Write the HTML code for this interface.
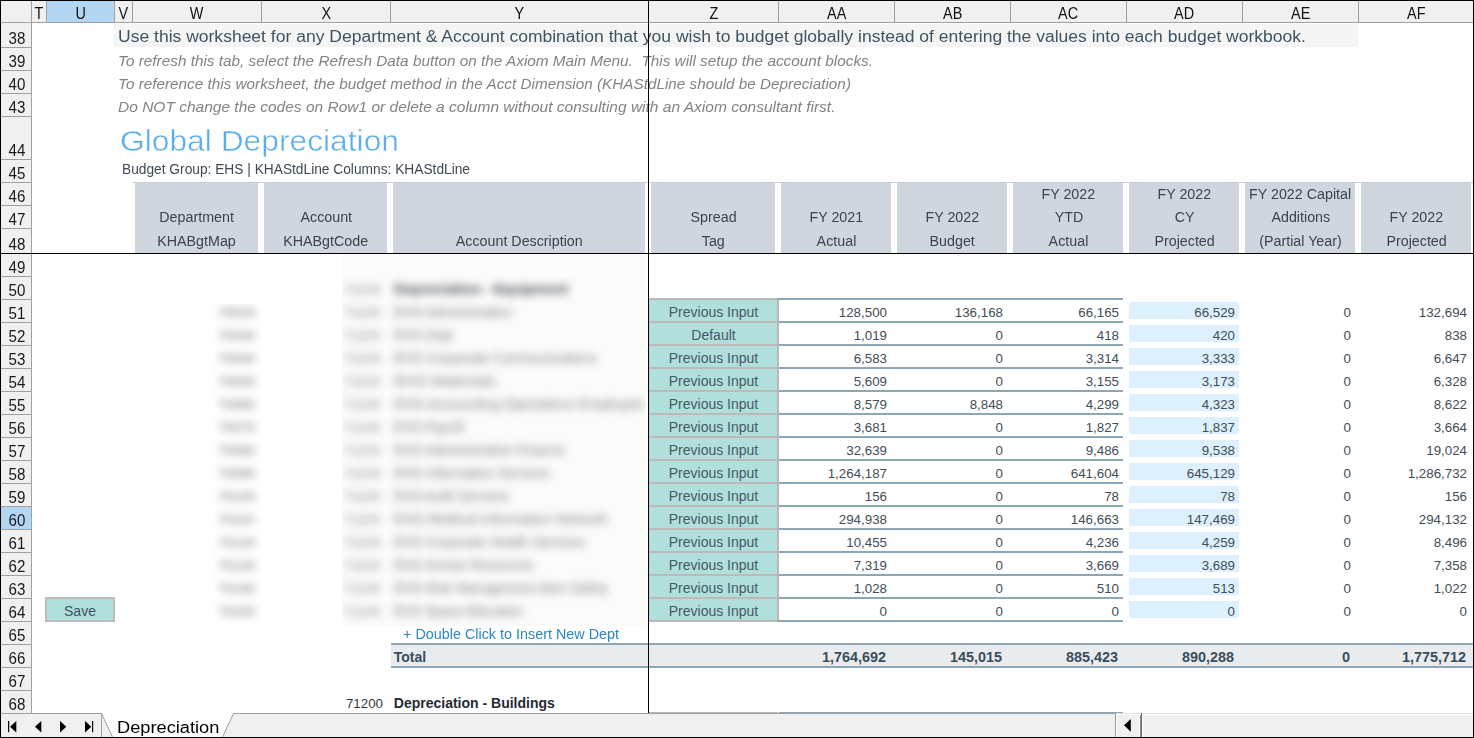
<!DOCTYPE html>
<html><head><meta charset="utf-8"><style>
html,body{margin:0;padding:0;background:#fff;}
body{width:1474px;height:738px;position:relative;overflow:hidden;font-family:"Liberation Sans", sans-serif;}
.t{position:absolute;white-space:pre;line-height:20px;}
</style></head><body>

<div style="position:absolute;left:1px;top:1px;width:1472px;height:21px;background:#f0f0f0;"></div>
<div style="position:absolute;left:47px;top:1px;width:67px;height:21px;background:#b3d7f3;"></div>
<div style="position:absolute;left:1px;top:22px;width:1472px;height:1px;background:#a0a0a0;"></div>
<div style="position:absolute;left:46px;top:1px;width:1px;height:22px;background:#a0a0a0;"></div>
<div style="position:absolute;left:114px;top:1px;width:1px;height:22px;background:#a0a0a0;"></div>
<div style="position:absolute;left:132px;top:1px;width:1px;height:22px;background:#a0a0a0;"></div>
<div style="position:absolute;left:261px;top:1px;width:1px;height:22px;background:#a0a0a0;"></div>
<div style="position:absolute;left:390px;top:1px;width:1px;height:22px;background:#a0a0a0;"></div>
<div style="position:absolute;left:778px;top:1px;width:1px;height:22px;background:#a0a0a0;"></div>
<div style="position:absolute;left:894px;top:1px;width:1px;height:22px;background:#a0a0a0;"></div>
<div style="position:absolute;left:1010px;top:1px;width:1px;height:22px;background:#a0a0a0;"></div>
<div style="position:absolute;left:1126px;top:1px;width:1px;height:22px;background:#a0a0a0;"></div>
<div style="position:absolute;left:1242px;top:1px;width:1px;height:22px;background:#a0a0a0;"></div>
<div style="position:absolute;left:1358px;top:1px;width:1px;height:22px;background:#a0a0a0;"></div>
<div style="position:absolute;left:31px;top:1px;width:1px;height:22px;background:#a0a0a0;"></div>
<div style="position:absolute;left:1px;top:23px;width:30px;height:690px;background:#f0f0f0;"></div>
<div style="position:absolute;left:31px;top:23px;width:1px;height:690px;background:#a0a0a0;"></div>
<div style="position:absolute;left:1px;top:47px;width:30px;height:1px;background:#a0a0a0;"></div>
<div style="position:absolute;left:1px;top:70px;width:30px;height:1px;background:#a0a0a0;"></div>
<div style="position:absolute;left:1px;top:93px;width:30px;height:1px;background:#a0a0a0;"></div>
<div style="position:absolute;left:1px;top:116px;width:30px;height:1px;background:#a0a0a0;"></div>
<div style="position:absolute;left:1px;top:159px;width:30px;height:1px;background:#a0a0a0;"></div>
<div style="position:absolute;left:1px;top:182px;width:30px;height:1px;background:#a0a0a0;"></div>
<div style="position:absolute;left:1px;top:205px;width:30px;height:1px;background:#a0a0a0;"></div>
<div style="position:absolute;left:1px;top:228px;width:30px;height:1px;background:#a0a0a0;"></div>
<div style="position:absolute;left:1px;top:276px;width:30px;height:1px;background:#a0a0a0;"></div>
<div style="position:absolute;left:1px;top:299px;width:30px;height:1px;background:#a0a0a0;"></div>
<div style="position:absolute;left:1px;top:322px;width:30px;height:1px;background:#a0a0a0;"></div>
<div style="position:absolute;left:1px;top:345px;width:30px;height:1px;background:#a0a0a0;"></div>
<div style="position:absolute;left:1px;top:368px;width:30px;height:1px;background:#a0a0a0;"></div>
<div style="position:absolute;left:1px;top:391px;width:30px;height:1px;background:#a0a0a0;"></div>
<div style="position:absolute;left:1px;top:414px;width:30px;height:1px;background:#a0a0a0;"></div>
<div style="position:absolute;left:1px;top:437px;width:30px;height:1px;background:#a0a0a0;"></div>
<div style="position:absolute;left:1px;top:460px;width:30px;height:1px;background:#a0a0a0;"></div>
<div style="position:absolute;left:1px;top:483px;width:30px;height:1px;background:#a0a0a0;"></div>
<div style="position:absolute;left:1px;top:506px;width:30px;height:1px;background:#a0a0a0;"></div>
<div style="position:absolute;left:1px;top:507px;width:30px;height:22px;background:#b3d7f3;"></div>
<div style="position:absolute;left:1px;top:529px;width:30px;height:1px;background:#a0a0a0;"></div>
<div style="position:absolute;left:1px;top:552px;width:30px;height:1px;background:#a0a0a0;"></div>
<div style="position:absolute;left:1px;top:575px;width:30px;height:1px;background:#a0a0a0;"></div>
<div style="position:absolute;left:1px;top:598px;width:30px;height:1px;background:#a0a0a0;"></div>
<div style="position:absolute;left:1px;top:621px;width:30px;height:1px;background:#a0a0a0;"></div>
<div style="position:absolute;left:1px;top:644px;width:30px;height:1px;background:#a0a0a0;"></div>
<div style="position:absolute;left:1px;top:667px;width:30px;height:1px;background:#a0a0a0;"></div>
<div style="position:absolute;left:1px;top:690px;width:30px;height:1px;background:#a0a0a0;"></div>
<div style="position:absolute;left:1px;top:713px;width:30px;height:1px;background:#a0a0a0;"></div>
<div style="position:absolute;left:114px;top:24px;width:1244px;height:23px;background:#f5f5f5;"></div>
<div style="position:absolute;left:132px;top:182px;width:1341px;height:1px;background:#c8cfd6;"></div>
<div style="position:absolute;left:135px;top:183px;width:123px;height:70px;background:#cfd6de;"></div>
<div style="position:absolute;left:264px;top:183px;width:123px;height:70px;background:#cfd6de;"></div>
<div style="position:absolute;left:393px;top:183px;width:252px;height:70px;background:#cfd6de;"></div>
<div style="position:absolute;left:651px;top:183px;width:124px;height:70px;background:#cfd6de;"></div>
<div style="position:absolute;left:781px;top:183px;width:110px;height:70px;background:#cfd6de;"></div>
<div style="position:absolute;left:897px;top:183px;width:110px;height:70px;background:#cfd6de;"></div>
<div style="position:absolute;left:1013px;top:183px;width:110px;height:70px;background:#cfd6de;"></div>
<div style="position:absolute;left:1129px;top:183px;width:110px;height:70px;background:#cfd6de;"></div>
<div style="position:absolute;left:1245px;top:183px;width:110px;height:70px;background:#cfd6de;"></div>
<div style="position:absolute;left:1361px;top:183px;width:110px;height:70px;background:#cfd6de;"></div>
<div style="position:absolute;left:649px;top:300px;width:128px;height:321px;background:#b1dfdc;"></div>
<div style="position:absolute;left:649px;top:298px;width:128px;height:2px;background:#bdb9b9;"></div>
<div style="position:absolute;left:649px;top:321px;width:128px;height:2px;background:#bdb9b9;"></div>
<div style="position:absolute;left:649px;top:344px;width:128px;height:2px;background:#bdb9b9;"></div>
<div style="position:absolute;left:649px;top:367px;width:128px;height:2px;background:#bdb9b9;"></div>
<div style="position:absolute;left:649px;top:390px;width:128px;height:2px;background:#bdb9b9;"></div>
<div style="position:absolute;left:649px;top:413px;width:128px;height:2px;background:#bdb9b9;"></div>
<div style="position:absolute;left:649px;top:436px;width:128px;height:2px;background:#bdb9b9;"></div>
<div style="position:absolute;left:649px;top:459px;width:128px;height:2px;background:#bdb9b9;"></div>
<div style="position:absolute;left:649px;top:482px;width:128px;height:2px;background:#bdb9b9;"></div>
<div style="position:absolute;left:649px;top:505px;width:128px;height:2px;background:#bdb9b9;"></div>
<div style="position:absolute;left:649px;top:528px;width:128px;height:2px;background:#bdb9b9;"></div>
<div style="position:absolute;left:649px;top:551px;width:128px;height:2px;background:#bdb9b9;"></div>
<div style="position:absolute;left:649px;top:574px;width:128px;height:2px;background:#bdb9b9;"></div>
<div style="position:absolute;left:649px;top:597px;width:128px;height:2px;background:#bdb9b9;"></div>
<div style="position:absolute;left:649px;top:620px;width:128px;height:2px;background:#bdb9b9;"></div>
<div style="position:absolute;left:777px;top:300px;width:2px;height:320px;background:#bdb9b9;"></div>
<div style="position:absolute;left:777px;top:298px;width:346px;height:2px;background:#8fa7b5;"></div>
<div style="position:absolute;left:779px;top:321px;width:344px;height:2px;background:#8fa7b5;"></div>
<div style="position:absolute;left:779px;top:344px;width:344px;height:2px;background:#8fa7b5;"></div>
<div style="position:absolute;left:779px;top:367px;width:344px;height:2px;background:#8fa7b5;"></div>
<div style="position:absolute;left:779px;top:390px;width:344px;height:2px;background:#8fa7b5;"></div>
<div style="position:absolute;left:779px;top:413px;width:344px;height:2px;background:#8fa7b5;"></div>
<div style="position:absolute;left:779px;top:436px;width:344px;height:2px;background:#8fa7b5;"></div>
<div style="position:absolute;left:779px;top:459px;width:344px;height:2px;background:#8fa7b5;"></div>
<div style="position:absolute;left:779px;top:482px;width:344px;height:2px;background:#8fa7b5;"></div>
<div style="position:absolute;left:779px;top:505px;width:344px;height:2px;background:#8fa7b5;"></div>
<div style="position:absolute;left:779px;top:528px;width:344px;height:2px;background:#8fa7b5;"></div>
<div style="position:absolute;left:779px;top:551px;width:344px;height:2px;background:#8fa7b5;"></div>
<div style="position:absolute;left:779px;top:574px;width:344px;height:2px;background:#8fa7b5;"></div>
<div style="position:absolute;left:779px;top:597px;width:344px;height:2px;background:#8fa7b5;"></div>
<div style="position:absolute;left:777px;top:620px;width:346px;height:2px;background:#8fa7b5;"></div>
<div style="position:absolute;left:1129px;top:302px;width:110px;height:17px;background:#ddf0fd;"></div>
<div style="position:absolute;left:1129px;top:325px;width:110px;height:17px;background:#ddf0fd;"></div>
<div style="position:absolute;left:1129px;top:348px;width:110px;height:17px;background:#ddf0fd;"></div>
<div style="position:absolute;left:1129px;top:371px;width:110px;height:17px;background:#ddf0fd;"></div>
<div style="position:absolute;left:1129px;top:394px;width:110px;height:17px;background:#ddf0fd;"></div>
<div style="position:absolute;left:1129px;top:417px;width:110px;height:17px;background:#ddf0fd;"></div>
<div style="position:absolute;left:1129px;top:440px;width:110px;height:17px;background:#ddf0fd;"></div>
<div style="position:absolute;left:1129px;top:463px;width:110px;height:17px;background:#ddf0fd;"></div>
<div style="position:absolute;left:1129px;top:486px;width:110px;height:17px;background:#ddf0fd;"></div>
<div style="position:absolute;left:1129px;top:509px;width:110px;height:17px;background:#ddf0fd;"></div>
<div style="position:absolute;left:1129px;top:532px;width:110px;height:17px;background:#ddf0fd;"></div>
<div style="position:absolute;left:1129px;top:555px;width:110px;height:17px;background:#ddf0fd;"></div>
<div style="position:absolute;left:1129px;top:578px;width:110px;height:17px;background:#ddf0fd;"></div>
<div style="position:absolute;left:1129px;top:601px;width:110px;height:17px;background:#ddf0fd;"></div>
<div style="position:absolute;left:649px;top:712px;width:129px;height:1px;background:#b8b8b8;"></div>
<div style="position:absolute;left:779px;top:712px;width:344px;height:1px;background:#8fa7b5;"></div>
<div style="position:absolute;left:45px;top:597px;width:70px;height:25px;background:#bdbdbd;"></div>
<div style="position:absolute;left:47px;top:599px;width:66px;height:21px;background:#b1dfdc;"></div>
<div style="position:absolute;left:391px;top:643px;width:1082px;height:25px;background:#e9ecef;"></div>
<div style="position:absolute;left:391px;top:643px;width:1082px;height:2px;background:#8fa7b5;"></div>
<div style="position:absolute;left:391px;top:666px;width:1082px;height:2px;background:#8fa7b5;"></div>
<div style="position:absolute;left:1px;top:714px;width:1472px;height:23px;background:#f0f0f0;"></div>
<div style="position:absolute;left:1px;top:713px;width:101px;height:1px;background:#a0a0a0;"></div>
<div style="position:absolute;left:101px;top:713px;width:1px;height:24px;background:#a0a0a0;"></div>
<div style="position:absolute;left:233px;top:713px;width:883px;height:1px;background:#a0a0a0;"></div>
<div style="position:absolute;left:1115px;top:713px;width:1px;height:24px;background:#9a9a9a;"></div>
<div style="position:absolute;left:1116px;top:713px;width:357px;height:1px;background:#e2e2e2;"></div>
<div style="position:absolute;left:1141px;top:713px;width:1px;height:24px;background:#6a6a6a;"></div>
<div style="position:absolute;left:1140px;top:714px;width:1px;height:23px;background:#909090;"></div>
<div style="position:absolute;left:1139px;top:715px;width:1px;height:22px;background:#f8f8f8;"></div>
<div style="position:absolute;left:1116px;top:714px;width:1px;height:23px;background:#ffffff;"></div>
<div style="position:absolute;left:1116px;top:714px;width:25px;height:1px;background:#ffffff;"></div>
<div style="position:absolute;left:1142px;top:714px;width:331px;height:1px;background:#ffffff;"></div>
<div style="position:absolute;left:1142px;top:714px;width:1px;height:23px;background:#ffffff;"></div>
<div style="position:absolute;left:342px;top:254px;width:304px;height:372px;overflow:hidden;background:#fbfbfb">
<div style="position:absolute;left:0;top:0;width:304px;height:372px;filter:blur(4.3px)">
<div class="t" style="left:2px;top:26px;font-size:13.33px;color:#8a8a8a">71100</div>
<div class="t" style="left:52px;top:25px;font-size:14px;font-weight:700;color:#4a5058;transform:scaleX(1.0261);transform-origin:left">Depreciation - Equipment</div>
<div class="t" style="left:2px;top:49px;font-size:13.33px;color:#8a8a8a">71100</div>
<div class="t" style="left:52px;top:48px;font-size:14px;color:#7d8185;transform:scaleX(0.9784);transform-origin:left">EHS Administration</div>
<div class="t" style="left:2px;top:72px;font-size:13.33px;color:#8a8a8a">71100</div>
<div class="t" style="left:52px;top:71px;font-size:14px;color:#7d8185;transform:scaleX(0.9478);transform-origin:left">EHS Dept</div>
<div class="t" style="left:2px;top:95px;font-size:13.33px;color:#8a8a8a">71100</div>
<div class="t" style="left:52px;top:94px;font-size:14px;color:#7d8185;transform:scaleX(0.9995);transform-origin:left">EHS Corporate Communications</div>
<div class="t" style="left:2px;top:118px;font-size:13.33px;color:#8a8a8a">71100</div>
<div class="t" style="left:52px;top:117px;font-size:14px;color:#7d8185;transform:scaleX(1.1401);transform-origin:left">EHS Materials</div>
<div class="t" style="left:2px;top:141px;font-size:13.33px;color:#8a8a8a">71100</div>
<div class="t" style="left:52px;top:140px;font-size:14px;color:#7d8185;transform:scaleX(1.0430);transform-origin:left">EHS Accounting Operations Employee</div>
<div class="t" style="left:2px;top:164px;font-size:13.33px;color:#8a8a8a">71100</div>
<div class="t" style="left:52px;top:163px;font-size:14px;color:#7d8185;transform:scaleX(0.9275);transform-origin:left">EHS Payroll</div>
<div class="t" style="left:2px;top:187px;font-size:13.33px;color:#8a8a8a">71100</div>
<div class="t" style="left:52px;top:186px;font-size:14px;color:#7d8185;transform:scaleX(0.9854);transform-origin:left">EHS Administrative Finance</div>
<div class="t" style="left:2px;top:210px;font-size:13.33px;color:#8a8a8a">71100</div>
<div class="t" style="left:52px;top:209px;font-size:14px;color:#7d8185;transform:scaleX(0.9732);transform-origin:left">EHS Information Services</div>
<div class="t" style="left:2px;top:233px;font-size:13.33px;color:#8a8a8a">71100</div>
<div class="t" style="left:52px;top:232px;font-size:14px;color:#7d8185;transform:scaleX(0.9474);transform-origin:left">EHS Audit Services</div>
<div class="t" style="left:2px;top:256px;font-size:13.33px;color:#8a8a8a">71100</div>
<div class="t" style="left:52px;top:255px;font-size:14px;color:#7d8185;transform:scaleX(1.0187);transform-origin:left">EHS Medical Information Network</div>
<div class="t" style="left:2px;top:279px;font-size:13.33px;color:#8a8a8a">71100</div>
<div class="t" style="left:52px;top:278px;font-size:14px;color:#7d8185;transform:scaleX(0.9702);transform-origin:left">EHS Corporate Health Services</div>
<div class="t" style="left:2px;top:302px;font-size:13.33px;color:#8a8a8a">71100</div>
<div class="t" style="left:52px;top:301px;font-size:14px;color:#7d8185;transform:scaleX(0.9420);transform-origin:left">EHS Human Resources</div>
<div class="t" style="left:2px;top:325px;font-size:13.33px;color:#8a8a8a">71100</div>
<div class="t" style="left:52px;top:324px;font-size:14px;color:#7d8185;transform:scaleX(0.9683);transform-origin:left">EHS Risk Management Alert Safety</div>
<div class="t" style="left:2px;top:348px;font-size:13.33px;color:#8a8a8a">71100</div>
<div class="t" style="left:52px;top:347px;font-size:14px;color:#7d8185;transform:scaleX(0.9471);transform-origin:left">EHS Space Allocation</div>
</div></div>
<div style="position:absolute;left:205px;top:304px;width:64px;height:322px;overflow:hidden">
<div style="position:absolute;left:0;top:0;width:64px;height:322px;filter:blur(4.3px)">
<div class="t" style="left:13px;top:-1px;font-size:13.33px;color:#6a6a6a">70025</div>
<div class="t" style="left:13px;top:22px;font-size:13.33px;color:#6a6a6a">70030</div>
<div class="t" style="left:13px;top:45px;font-size:13.33px;color:#6a6a6a">70040</div>
<div class="t" style="left:13px;top:68px;font-size:13.33px;color:#6a6a6a">70050</div>
<div class="t" style="left:13px;top:91px;font-size:13.33px;color:#6a6a6a">70060</div>
<div class="t" style="left:13px;top:114px;font-size:13.33px;color:#6a6a6a">70070</div>
<div class="t" style="left:13px;top:137px;font-size:13.33px;color:#6a6a6a">70080</div>
<div class="t" style="left:13px;top:160px;font-size:13.33px;color:#6a6a6a">70090</div>
<div class="t" style="left:13px;top:183px;font-size:13.33px;color:#6a6a6a">70100</div>
<div class="t" style="left:13px;top:206px;font-size:13.33px;color:#6a6a6a">70110</div>
<div class="t" style="left:13px;top:229px;font-size:13.33px;color:#6a6a6a">70120</div>
<div class="t" style="left:13px;top:252px;font-size:13.33px;color:#6a6a6a">70130</div>
<div class="t" style="left:13px;top:275px;font-size:13.33px;color:#6a6a6a">70140</div>
<div class="t" style="left:13px;top:298px;font-size:13.33px;color:#6a6a6a">70150</div>
</div></div>
<svg style="position:absolute;left:0;top:0" width="1474" height="738" viewBox="0 0 1474 738">
<polygon points="101.5,713.5 233.5,713.5 222.5,737 112.5,737" fill="#ffffff"/>
<line x1="101.5" y1="713.5" x2="112.5" y2="737" stroke="#a0a0a0" stroke-width="1"/>
<line x1="233.5" y1="713.5" x2="222.5" y2="737" stroke="#a0a0a0" stroke-width="1"/>
<rect x="8" y="721" width="1.2" height="11.2" fill="#000"/>
<polygon points="10,726.75 16.3,721 16.3,732.5" fill="#000"/>
<polygon points="35,726.75 41.3,721 41.3,732.5" fill="#000"/>
<polygon points="66.3,726.75 60,721 60,732.5" fill="#000"/>
<polygon points="91.3,726.75 85,721 85,732.5" fill="#000"/>
<rect x="92" y="721" width="1.2" height="11.2" fill="#000"/>
<polygon points="1124,725.3 1130.8,719 1130.8,731.8" fill="#000"/>
</svg>
<div class="t" style="left:34.11px;top:4px;font-size:16px;color:#111;transform:scaleX(0.9000);transform-origin:center;">T</div>
<div class="t" style="left:74.72px;top:4px;font-size:16px;color:#111;transform:scaleX(0.9000);transform-origin:center;">U</div>
<div class="t" style="left:118.16px;top:4px;font-size:16px;color:#111;transform:scaleX(0.9000);transform-origin:center;">V</div>
<div class="t" style="left:189.45px;top:4px;font-size:16px;color:#111;transform:scaleX(0.9000);transform-origin:center;">W</div>
<div class="t" style="left:320.66px;top:4px;font-size:16px;color:#111;transform:scaleX(0.9000);transform-origin:center;">X</div>
<div class="t" style="left:514.16px;top:4px;font-size:16px;color:#111;transform:scaleX(0.9000);transform-origin:center;">Y</div>
<div class="t" style="left:708.61px;top:4px;font-size:16px;color:#111;transform:scaleX(0.9000);transform-origin:center;">Z</div>
<div class="t" style="left:825.83px;top:4px;font-size:16px;color:#111;transform:scaleX(0.9000);transform-origin:center;">AA</div>
<div class="t" style="left:941.83px;top:4px;font-size:16px;color:#111;transform:scaleX(0.9000);transform-origin:center;">AB</div>
<div class="t" style="left:1057.38px;top:4px;font-size:16px;color:#111;transform:scaleX(0.9000);transform-origin:center;">AC</div>
<div class="t" style="left:1173.38px;top:4px;font-size:16px;color:#111;transform:scaleX(0.9000);transform-origin:center;">AD</div>
<div class="t" style="left:1289.83px;top:4px;font-size:16px;color:#111;transform:scaleX(0.9000);transform-origin:center;">AE</div>
<div class="t" style="left:1406.27px;top:4px;font-size:16px;color:#111;transform:scaleX(0.9000);transform-origin:center;">AF</div>
<div class="t" style="left:7.60px;top:29px;font-size:16px;color:#1a1a1a;transform:scaleX(0.9440);transform-origin:center;">38</div>
<div class="t" style="left:7.60px;top:52px;font-size:16px;color:#1a1a1a;transform:scaleX(0.9440);transform-origin:center;">39</div>
<div class="t" style="left:7.60px;top:75px;font-size:16px;color:#1a1a1a;transform:scaleX(0.9440);transform-origin:center;">40</div>
<div class="t" style="left:7.60px;top:98px;font-size:16px;color:#1a1a1a;transform:scaleX(0.9440);transform-origin:center;">43</div>
<div class="t" style="left:7.60px;top:141px;font-size:16px;color:#1a1a1a;transform:scaleX(0.9440);transform-origin:center;">44</div>
<div class="t" style="left:7.60px;top:164px;font-size:16px;color:#1a1a1a;transform:scaleX(0.9440);transform-origin:center;">45</div>
<div class="t" style="left:7.60px;top:187px;font-size:16px;color:#1a1a1a;transform:scaleX(0.9440);transform-origin:center;">46</div>
<div class="t" style="left:7.60px;top:210px;font-size:16px;color:#1a1a1a;transform:scaleX(0.9440);transform-origin:center;">47</div>
<div class="t" style="left:7.60px;top:235px;font-size:16px;color:#1a1a1a;transform:scaleX(0.9440);transform-origin:center;">48</div>
<div class="t" style="left:7.60px;top:258px;font-size:16px;color:#1a1a1a;transform:scaleX(0.9440);transform-origin:center;">49</div>
<div class="t" style="left:7.60px;top:281px;font-size:16px;color:#1a1a1a;transform:scaleX(0.9440);transform-origin:center;">50</div>
<div class="t" style="left:7.60px;top:304px;font-size:16px;color:#1a1a1a;transform:scaleX(0.9440);transform-origin:center;">51</div>
<div class="t" style="left:7.60px;top:327px;font-size:16px;color:#1a1a1a;transform:scaleX(0.9440);transform-origin:center;">52</div>
<div class="t" style="left:7.60px;top:350px;font-size:16px;color:#1a1a1a;transform:scaleX(0.9440);transform-origin:center;">53</div>
<div class="t" style="left:7.60px;top:373px;font-size:16px;color:#1a1a1a;transform:scaleX(0.9440);transform-origin:center;">54</div>
<div class="t" style="left:7.60px;top:396px;font-size:16px;color:#1a1a1a;transform:scaleX(0.9440);transform-origin:center;">55</div>
<div class="t" style="left:7.60px;top:419px;font-size:16px;color:#1a1a1a;transform:scaleX(0.9440);transform-origin:center;">56</div>
<div class="t" style="left:7.60px;top:442px;font-size:16px;color:#1a1a1a;transform:scaleX(0.9440);transform-origin:center;">57</div>
<div class="t" style="left:7.60px;top:465px;font-size:16px;color:#1a1a1a;transform:scaleX(0.9440);transform-origin:center;">58</div>
<div class="t" style="left:7.60px;top:488px;font-size:16px;color:#1a1a1a;transform:scaleX(0.9440);transform-origin:center;">59</div>
<div class="t" style="left:7.60px;top:511px;font-size:16px;color:#1a1a1a;transform:scaleX(0.9440);transform-origin:center;">60</div>
<div class="t" style="left:7.60px;top:534px;font-size:16px;color:#1a1a1a;transform:scaleX(0.9440);transform-origin:center;">61</div>
<div class="t" style="left:7.60px;top:557px;font-size:16px;color:#1a1a1a;transform:scaleX(0.9440);transform-origin:center;">62</div>
<div class="t" style="left:7.60px;top:580px;font-size:16px;color:#1a1a1a;transform:scaleX(0.9440);transform-origin:center;">63</div>
<div class="t" style="left:7.60px;top:603px;font-size:16px;color:#1a1a1a;transform:scaleX(0.9440);transform-origin:center;">64</div>
<div class="t" style="left:7.60px;top:626px;font-size:16px;color:#1a1a1a;transform:scaleX(0.9440);transform-origin:center;">65</div>
<div class="t" style="left:7.60px;top:649px;font-size:16px;color:#1a1a1a;transform:scaleX(0.9440);transform-origin:center;">66</div>
<div class="t" style="left:7.60px;top:672px;font-size:16px;color:#1a1a1a;transform:scaleX(0.9440);transform-origin:center;">67</div>
<div class="t" style="left:7.60px;top:695px;font-size:16px;color:#1a1a1a;transform:scaleX(0.9440);transform-origin:center;">68</div>
<div class="t" style="left:117.5px;top:27px;font-size:16px;color:#3e5462;transform:scaleX(1.0948);transform-origin:left;">Use this worksheet for any Department &amp; Account combination that you wish to budget globally instead of entering the values into each budget workbook.</div>
<div class="t" style="left:117.5px;top:51px;font-size:14px;font-style:italic;color:#838383;transform:scaleX(1.0942);transform-origin:left;">To refresh this tab, select the Refresh Data button on the Axiom Main Menu.&nbsp; This will setup the account blocks.</div>
<div class="t" style="left:117.5px;top:74px;font-size:14px;font-style:italic;color:#838383;transform:scaleX(1.0918);transform-origin:left;">To reference this worksheet, the budget method in the Acct Dimension (KHAStdLine should be Depreciation)</div>
<div class="t" style="left:118.2px;top:97px;font-size:14px;font-style:italic;color:#838383;transform:scaleX(1.1077);transform-origin:left;">Do NOT change the codes on Row1 or delete a column without consulting with an Axiom consultant first.</div>
<div class="t" style="left:120px;top:131px;font-size:30px;color:#5aadf0;transform:scaleX(1.0589);transform-origin:left;-webkit-text-stroke:0.45px #fff;">Global Depreciation</div>
<div class="t" style="left:122px;top:159px;font-size:14px;color:#3d4a55;transform:scaleX(0.9814);transform-origin:left;">Budget Group: EHS | KHAStdLine Columns: KHAStdLine</div>
<div class="t" style="left:160.42px;top:207px;font-size:14px;color:#3a4550;transform:scaleX(1.0200);transform-origin:center;">Department</div>
<div class="t" style="left:158.48px;top:231px;font-size:14px;color:#3a4550;transform:scaleX(1.0200);transform-origin:center;">KHABgtMap</div>
<div class="t" style="left:300.70px;top:207px;font-size:14px;color:#3a4550;transform:scaleX(1.0200);transform-origin:center;">Account</div>
<div class="t" style="left:284.36px;top:231px;font-size:14px;color:#3a4550;transform:scaleX(1.0200);transform-origin:center;">KHABgtCode</div>
<div class="t" style="left:457.24px;top:231px;font-size:14px;color:#3a4550;transform:scaleX(1.0200);transform-origin:center;">Account Description</div>
<div class="t" style="left:690.92px;top:207px;font-size:14px;color:#3a4550;transform:scaleX(1.0200);transform-origin:center;">Spread</div>
<div class="t" style="left:702.21px;top:231px;font-size:14px;color:#3a4550;transform:scaleX(1.0200);transform-origin:center;">Tag</div>
<div class="t" style="left:810.16px;top:207px;font-size:14px;color:#3a4550;transform:scaleX(1.0200);transform-origin:center;">FY 2021</div>
<div class="t" style="left:817.04px;top:231px;font-size:14px;color:#3a4550;transform:scaleX(1.0200);transform-origin:center;">Actual</div>
<div class="t" style="left:926.16px;top:207px;font-size:14px;color:#3a4550;transform:scaleX(1.0200);transform-origin:center;">FY 2022</div>
<div class="t" style="left:930.31px;top:231px;font-size:14px;color:#3a4550;transform:scaleX(1.0200);transform-origin:center;">Budget</div>
<div class="t" style="left:1042.16px;top:184px;font-size:14px;color:#3a4550;transform:scaleX(1.0200);transform-origin:center;">FY 2022</div>
<div class="t" style="left:1054.50px;top:207px;font-size:14px;color:#3a4550;transform:scaleX(1.0200);transform-origin:center;">YTD</div>
<div class="t" style="left:1049.04px;top:231px;font-size:14px;color:#3a4550;transform:scaleX(1.0200);transform-origin:center;">Actual</div>
<div class="t" style="left:1158.16px;top:184px;font-size:14px;color:#3a4550;transform:scaleX(1.0200);transform-origin:center;">FY 2022</div>
<div class="t" style="left:1174.77px;top:207px;font-size:14px;color:#3a4550;transform:scaleX(1.0200);transform-origin:center;">CY</div>
<div class="t" style="left:1154.92px;top:231px;font-size:14px;color:#3a4550;transform:scaleX(1.0200);transform-origin:center;">Projected</div>
<div class="t" style="left:1250.43px;top:184px;font-size:14px;color:#3a4550;transform:scaleX(1.0200);transform-origin:center;">FY 2022 Capital</div>
<div class="t" style="left:1271.70px;top:207px;font-size:14px;color:#3a4550;transform:scaleX(1.0200);transform-origin:center;">Additions</div>
<div class="t" style="left:1260.03px;top:231px;font-size:14px;color:#3a4550;transform:scaleX(1.0200);transform-origin:center;">(Partial Year)</div>
<div class="t" style="left:1390.16px;top:207px;font-size:14px;color:#3a4550;transform:scaleX(1.0200);transform-origin:center;">FY 2022</div>
<div class="t" style="left:1386.92px;top:231px;font-size:14px;color:#3a4550;transform:scaleX(1.0200);transform-origin:center;">Projected</div>
<div class="t" style="left:668.75px;top:302px;font-size:14px;color:#465a68;transform-origin:center;">Previous Input</div>
<div class="t" style="left:838.81px;top:303px;font-size:13.33px;color:#434d56;transform-origin:right;">128,500</div>
<div class="t" style="left:954.81px;top:303px;font-size:13.33px;color:#434d56;transform-origin:right;">136,168</div>
<div class="t" style="left:1078.23px;top:303px;font-size:13.33px;color:#434d56;transform-origin:right;">66,165</div>
<div class="t" style="left:1194.23px;top:303px;font-size:13.33px;color:#434d56;transform-origin:right;">66,529</div>
<div class="t" style="left:1343.58px;top:303px;font-size:13.33px;color:#434d56;transform-origin:right;">0</div>
<div class="t" style="left:1418.81px;top:303px;font-size:13.33px;color:#434d56;transform-origin:right;">132,694</div>
<div class="t" style="left:691.32px;top:325px;font-size:14px;color:#465a68;transform-origin:center;">Default</div>
<div class="t" style="left:853.64px;top:326px;font-size:13.33px;color:#434d56;transform-origin:right;">1,019</div>
<div class="t" style="left:995.58px;top:326px;font-size:13.33px;color:#434d56;transform-origin:right;">0</div>
<div class="t" style="left:1096.75px;top:326px;font-size:13.33px;color:#434d56;transform-origin:right;">418</div>
<div class="t" style="left:1212.75px;top:326px;font-size:13.33px;color:#434d56;transform-origin:right;">420</div>
<div class="t" style="left:1343.58px;top:326px;font-size:13.33px;color:#434d56;transform-origin:right;">0</div>
<div class="t" style="left:1444.75px;top:326px;font-size:13.33px;color:#434d56;transform-origin:right;">838</div>
<div class="t" style="left:668.75px;top:348px;font-size:14px;color:#465a68;transform-origin:center;">Previous Input</div>
<div class="t" style="left:853.64px;top:349px;font-size:13.33px;color:#434d56;transform-origin:right;">6,583</div>
<div class="t" style="left:995.58px;top:349px;font-size:13.33px;color:#434d56;transform-origin:right;">0</div>
<div class="t" style="left:1085.64px;top:349px;font-size:13.33px;color:#434d56;transform-origin:right;">3,314</div>
<div class="t" style="left:1201.64px;top:349px;font-size:13.33px;color:#434d56;transform-origin:right;">3,333</div>
<div class="t" style="left:1343.58px;top:349px;font-size:13.33px;color:#434d56;transform-origin:right;">0</div>
<div class="t" style="left:1433.64px;top:349px;font-size:13.33px;color:#434d56;transform-origin:right;">6,647</div>
<div class="t" style="left:668.75px;top:371px;font-size:14px;color:#465a68;transform-origin:center;">Previous Input</div>
<div class="t" style="left:853.64px;top:372px;font-size:13.33px;color:#434d56;transform-origin:right;">5,609</div>
<div class="t" style="left:995.58px;top:372px;font-size:13.33px;color:#434d56;transform-origin:right;">0</div>
<div class="t" style="left:1085.64px;top:372px;font-size:13.33px;color:#434d56;transform-origin:right;">3,155</div>
<div class="t" style="left:1201.64px;top:372px;font-size:13.33px;color:#434d56;transform-origin:right;">3,173</div>
<div class="t" style="left:1343.58px;top:372px;font-size:13.33px;color:#434d56;transform-origin:right;">0</div>
<div class="t" style="left:1433.64px;top:372px;font-size:13.33px;color:#434d56;transform-origin:right;">6,328</div>
<div class="t" style="left:668.75px;top:394px;font-size:14px;color:#465a68;transform-origin:center;">Previous Input</div>
<div class="t" style="left:853.64px;top:395px;font-size:13.33px;color:#434d56;transform-origin:right;">8,579</div>
<div class="t" style="left:969.64px;top:395px;font-size:13.33px;color:#434d56;transform-origin:right;">8,848</div>
<div class="t" style="left:1085.64px;top:395px;font-size:13.33px;color:#434d56;transform-origin:right;">4,299</div>
<div class="t" style="left:1201.64px;top:395px;font-size:13.33px;color:#434d56;transform-origin:right;">4,323</div>
<div class="t" style="left:1343.58px;top:395px;font-size:13.33px;color:#434d56;transform-origin:right;">0</div>
<div class="t" style="left:1433.64px;top:395px;font-size:13.33px;color:#434d56;transform-origin:right;">8,622</div>
<div class="t" style="left:668.75px;top:417px;font-size:14px;color:#465a68;transform-origin:center;">Previous Input</div>
<div class="t" style="left:853.64px;top:418px;font-size:13.33px;color:#434d56;transform-origin:right;">3,681</div>
<div class="t" style="left:995.58px;top:418px;font-size:13.33px;color:#434d56;transform-origin:right;">0</div>
<div class="t" style="left:1085.64px;top:418px;font-size:13.33px;color:#434d56;transform-origin:right;">1,827</div>
<div class="t" style="left:1201.64px;top:418px;font-size:13.33px;color:#434d56;transform-origin:right;">1,837</div>
<div class="t" style="left:1343.58px;top:418px;font-size:13.33px;color:#434d56;transform-origin:right;">0</div>
<div class="t" style="left:1433.64px;top:418px;font-size:13.33px;color:#434d56;transform-origin:right;">3,664</div>
<div class="t" style="left:668.75px;top:440px;font-size:14px;color:#465a68;transform-origin:center;">Previous Input</div>
<div class="t" style="left:846.23px;top:441px;font-size:13.33px;color:#434d56;transform-origin:right;">32,639</div>
<div class="t" style="left:995.58px;top:441px;font-size:13.33px;color:#434d56;transform-origin:right;">0</div>
<div class="t" style="left:1085.64px;top:441px;font-size:13.33px;color:#434d56;transform-origin:right;">9,486</div>
<div class="t" style="left:1201.64px;top:441px;font-size:13.33px;color:#434d56;transform-origin:right;">9,538</div>
<div class="t" style="left:1343.58px;top:441px;font-size:13.33px;color:#434d56;transform-origin:right;">0</div>
<div class="t" style="left:1426.23px;top:441px;font-size:13.33px;color:#434d56;transform-origin:right;">19,024</div>
<div class="t" style="left:668.75px;top:463px;font-size:14px;color:#465a68;transform-origin:center;">Previous Input</div>
<div class="t" style="left:827.70px;top:464px;font-size:13.33px;color:#434d56;transform-origin:right;">1,264,187</div>
<div class="t" style="left:995.58px;top:464px;font-size:13.33px;color:#434d56;transform-origin:right;">0</div>
<div class="t" style="left:1070.81px;top:464px;font-size:13.33px;color:#434d56;transform-origin:right;">641,604</div>
<div class="t" style="left:1186.81px;top:464px;font-size:13.33px;color:#434d56;transform-origin:right;">645,129</div>
<div class="t" style="left:1343.58px;top:464px;font-size:13.33px;color:#434d56;transform-origin:right;">0</div>
<div class="t" style="left:1407.70px;top:464px;font-size:13.33px;color:#434d56;transform-origin:right;">1,286,732</div>
<div class="t" style="left:668.75px;top:486px;font-size:14px;color:#465a68;transform-origin:center;">Previous Input</div>
<div class="t" style="left:864.75px;top:487px;font-size:13.33px;color:#434d56;transform-origin:right;">156</div>
<div class="t" style="left:995.58px;top:487px;font-size:13.33px;color:#434d56;transform-origin:right;">0</div>
<div class="t" style="left:1104.17px;top:487px;font-size:13.33px;color:#434d56;transform-origin:right;">78</div>
<div class="t" style="left:1220.17px;top:487px;font-size:13.33px;color:#434d56;transform-origin:right;">78</div>
<div class="t" style="left:1343.58px;top:487px;font-size:13.33px;color:#434d56;transform-origin:right;">0</div>
<div class="t" style="left:1444.75px;top:487px;font-size:13.33px;color:#434d56;transform-origin:right;">156</div>
<div class="t" style="left:668.75px;top:509px;font-size:14px;color:#465a68;transform-origin:center;">Previous Input</div>
<div class="t" style="left:838.81px;top:510px;font-size:13.33px;color:#434d56;transform-origin:right;">294,938</div>
<div class="t" style="left:995.58px;top:510px;font-size:13.33px;color:#434d56;transform-origin:right;">0</div>
<div class="t" style="left:1070.81px;top:510px;font-size:13.33px;color:#434d56;transform-origin:right;">146,663</div>
<div class="t" style="left:1186.81px;top:510px;font-size:13.33px;color:#434d56;transform-origin:right;">147,469</div>
<div class="t" style="left:1343.58px;top:510px;font-size:13.33px;color:#434d56;transform-origin:right;">0</div>
<div class="t" style="left:1418.81px;top:510px;font-size:13.33px;color:#434d56;transform-origin:right;">294,132</div>
<div class="t" style="left:668.75px;top:532px;font-size:14px;color:#465a68;transform-origin:center;">Previous Input</div>
<div class="t" style="left:846.23px;top:533px;font-size:13.33px;color:#434d56;transform-origin:right;">10,455</div>
<div class="t" style="left:995.58px;top:533px;font-size:13.33px;color:#434d56;transform-origin:right;">0</div>
<div class="t" style="left:1085.64px;top:533px;font-size:13.33px;color:#434d56;transform-origin:right;">4,236</div>
<div class="t" style="left:1201.64px;top:533px;font-size:13.33px;color:#434d56;transform-origin:right;">4,259</div>
<div class="t" style="left:1343.58px;top:533px;font-size:13.33px;color:#434d56;transform-origin:right;">0</div>
<div class="t" style="left:1433.64px;top:533px;font-size:13.33px;color:#434d56;transform-origin:right;">8,496</div>
<div class="t" style="left:668.75px;top:555px;font-size:14px;color:#465a68;transform-origin:center;">Previous Input</div>
<div class="t" style="left:853.64px;top:556px;font-size:13.33px;color:#434d56;transform-origin:right;">7,319</div>
<div class="t" style="left:995.58px;top:556px;font-size:13.33px;color:#434d56;transform-origin:right;">0</div>
<div class="t" style="left:1085.64px;top:556px;font-size:13.33px;color:#434d56;transform-origin:right;">3,669</div>
<div class="t" style="left:1201.64px;top:556px;font-size:13.33px;color:#434d56;transform-origin:right;">3,689</div>
<div class="t" style="left:1343.58px;top:556px;font-size:13.33px;color:#434d56;transform-origin:right;">0</div>
<div class="t" style="left:1433.64px;top:556px;font-size:13.33px;color:#434d56;transform-origin:right;">7,358</div>
<div class="t" style="left:668.75px;top:578px;font-size:14px;color:#465a68;transform-origin:center;">Previous Input</div>
<div class="t" style="left:853.64px;top:579px;font-size:13.33px;color:#434d56;transform-origin:right;">1,028</div>
<div class="t" style="left:995.58px;top:579px;font-size:13.33px;color:#434d56;transform-origin:right;">0</div>
<div class="t" style="left:1096.75px;top:579px;font-size:13.33px;color:#434d56;transform-origin:right;">510</div>
<div class="t" style="left:1212.75px;top:579px;font-size:13.33px;color:#434d56;transform-origin:right;">513</div>
<div class="t" style="left:1343.58px;top:579px;font-size:13.33px;color:#434d56;transform-origin:right;">0</div>
<div class="t" style="left:1433.64px;top:579px;font-size:13.33px;color:#434d56;transform-origin:right;">1,022</div>
<div class="t" style="left:668.75px;top:601px;font-size:14px;color:#465a68;transform-origin:center;">Previous Input</div>
<div class="t" style="left:879.58px;top:602px;font-size:13.33px;color:#434d56;transform-origin:right;">0</div>
<div class="t" style="left:995.58px;top:602px;font-size:13.33px;color:#434d56;transform-origin:right;">0</div>
<div class="t" style="left:1111.58px;top:602px;font-size:13.33px;color:#434d56;transform-origin:right;">0</div>
<div class="t" style="left:1227.58px;top:602px;font-size:13.33px;color:#434d56;transform-origin:right;">0</div>
<div class="t" style="left:1343.58px;top:602px;font-size:13.33px;color:#434d56;transform-origin:right;">0</div>
<div class="t" style="left:1459.58px;top:602px;font-size:13.33px;color:#434d56;transform-origin:right;">0</div>
<div class="t" style="left:64.04px;top:601px;font-size:14px;color:#3e5462;transform-origin:center;">Save</div>
<div class="t" style="left:402.6px;top:624px;font-size:14px;color:#2b86c5;transform:scaleX(1.0262);transform-origin:left;">+ Double Click to Insert New Dept</div>
<div class="t" style="left:393.8px;top:647px;font-size:14px;font-weight:700;color:#3b4d5a;transform-origin:left;">Total</div>
<div class="t" style="left:821.97px;top:647px;font-size:14.4px;font-weight:700;color:#3b4d5a;transform-origin:right;">1,764,692</div>
<div class="t" style="left:949.97px;top:647px;font-size:14.4px;font-weight:700;color:#3b4d5a;transform-origin:right;">145,015</div>
<div class="t" style="left:1065.97px;top:647px;font-size:14.4px;font-weight:700;color:#3b4d5a;transform-origin:right;">885,423</div>
<div class="t" style="left:1181.97px;top:647px;font-size:14.4px;font-weight:700;color:#3b4d5a;transform-origin:right;">890,288</div>
<div class="t" style="left:1341.98px;top:647px;font-size:14.4px;font-weight:700;color:#3b4d5a;transform-origin:right;">0</div>
<div class="t" style="left:1401.97px;top:647px;font-size:14.4px;font-weight:700;color:#3b4d5a;transform-origin:right;">1,775,712</div>
<div class="t" style="left:345.94px;top:694px;font-size:13.33px;color:#333b42;transform-origin:right;">71200</div>
<div class="t" style="left:393.8px;top:693px;font-size:14px;font-weight:700;color:#1f2a33;transform-origin:left;">Depreciation - Buildings</div>
<div class="t" style="left:117px;top:718px;font-size:16px;color:#000;transform:scaleX(1.14);transform-origin:left">Depreciation</div>
<div style="position:absolute;left:0px;top:0px;width:1474px;height:1px;background:#000;"></div>
<div style="position:absolute;left:0px;top:0px;width:1px;height:738px;background:#000;"></div>
<div style="position:absolute;left:1473px;top:0px;width:1px;height:738px;background:#000;"></div>
<div style="position:absolute;left:0px;top:737px;width:1474px;height:1px;background:#000;"></div>
<div style="position:absolute;left:1px;top:253px;width:1472px;height:1px;background:#000;"></div>
<div style="position:absolute;left:648px;top:1px;width:1px;height:712px;background:#000;"></div>
</body></html>
